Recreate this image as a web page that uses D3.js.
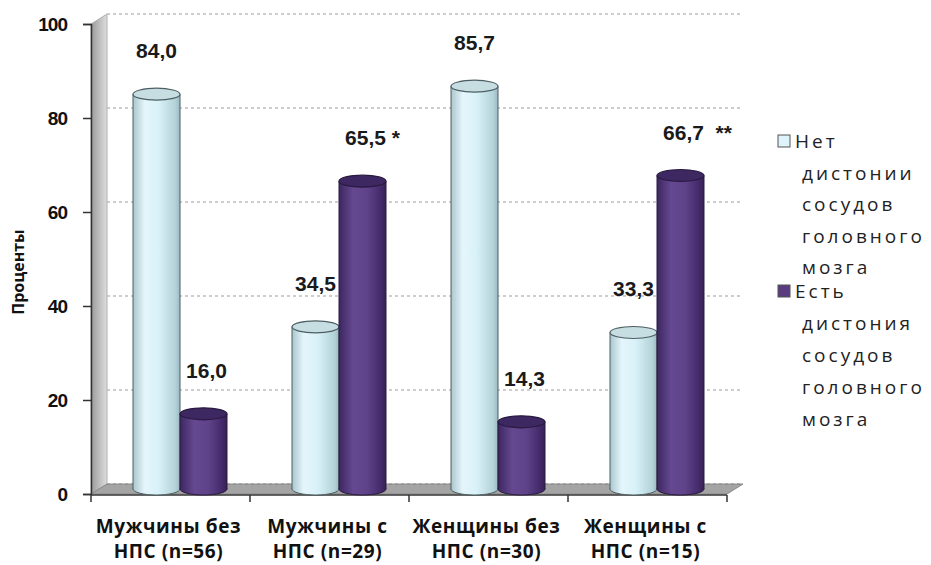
<!DOCTYPE html>
<html>
<head>
<meta charset="utf-8">
<script src="https://cdn.jsdelivr.net/npm/d3@7"></script>
<style>
  body { margin: 0; background: #fff; }
  svg { display: block; }
</style>
</head>
<body>
<script>
// data
const categories = [
  ["Мужчины без", "НПС (n=56)"],
  ["Мужчины с", "НПС (n=29)"],
  ["Женщины без", "НПС (n=30)"],
  ["Женщины с", "НПС (n=15)"]
]
const seriesNames = [
  ["Нет", "дистонии", "сосудов", "головного", "мозга"],
  ["Есть", "дистония", "сосудов", "головного", "мозга"]
]
const noDystonia = [84.0, 34.5, 85.7, 33.3]
const dystonia = [16.0, 65.5, 14.3, 66.7]
const marks = [["", ""], ["", " *"], ["", ""], ["", "  **"]]
const yTicks = [0, 20, 40, 60, 80, 100]

const W = 931, H = 565
const depthX = 16, depthY = -10

let svg = d3.select("body").append("svg")
  .attr("width", W)
  .attr("height", H)

let y = d3.scaleLinear().domain([0, 100]).range([494, 24])
let x0 = d3.scaleBand().domain(d3.range(categories.length)).range([91, 727])
let x1 = d3.scaleBand().domain([0, 1]).range([42, 136])

let defs = svg.append("defs")
function hGrad(id, stops) {
  let g = defs.append("linearGradient").attr("id", id)
    .attr("x1", "0%").attr("x2", "100%").attr("y1", "0%").attr("y2", "0%")
  stops.forEach(s => g.append("stop").attr("offset", s[0]).attr("stop-color", s[1]))
}
hGrad("cyanBody", [["0%", "#a9c6cd"], ["25%", "#e4f6fb"], ["55%", "#d8f1f8"], ["90%", "#b4d2d9"], ["100%", "#9bb9c0"]])
hGrad("purpBody", [["0%", "#3c2760"], ["30%", "#654890"], ["60%", "#5f4389"], ["90%", "#43296a"], ["100%", "#36224f"]])
hGrad("wallGrad", [["0%", "#9a9a9a"], ["100%", "#dedede"]])

// side wall and floor
svg.append("polygon")
  .attr("points", [[91, y(0)], [91, y(100)], [91 + depthX, y(100) + depthY], [91 + depthX, y(0) + depthY]].join(" "))
  .attr("fill", "url(#wallGrad)")
  .attr("stroke", "#b0b0b0")
svg.append("polygon")
  .attr("points", [[91, y(0)], [91 + depthX, y(0) + depthY], [727 + depthX, y(0) + depthY], [727, y(0)]].join(" "))
  .attr("fill", "#a4a4a4")
  .attr("stroke", "#8a8a8a")

// gridlines on back wall
svg.selectAll(".grid")
  .data(yTicks.filter(d => d > 0))
  .enter()
  .append("line")
  .attr("x1", 91 + depthX)
  .attr("x2", 727 + depthX)
  .attr("y1", d => y(d) + depthY)
  .attr("y2", d => y(d) + depthY)
  .attr("stroke", "#bdbdbd")
  .attr("stroke-width", 1.3)
  .attr("stroke-dasharray", "3,3")
svg.append("line")
  .attr("x1", 91 + depthX).attr("x2", 727 + depthX)
  .attr("y1", y(0) + depthY).attr("y2", y(0) + depthY)
  .attr("stroke", "#8a8a8a").attr("stroke-dasharray", "3,3")

// y axis
let yAxis = d3.axisLeft(y).tickValues(yTicks).tickSize(8).tickPadding(16)
let gy = svg.append("g").attr("transform", "translate(91,0)").call(yAxis)
gy.select(".domain").attr("stroke", "#333").attr("stroke-width", 1.5)
gy.selectAll(".tick line").attr("stroke", "#333").attr("stroke-width", 1.5)
gy.selectAll(".tick text")
  .style("font-family", "Liberation Sans, Arial, sans-serif")
  .style("font-size", "19px")
  .style("font-weight", "bold")
  .style("letter-spacing", "-1px")
  .attr("fill", "#111")

// x axis line + ticks
let xAxisG = svg.append("g")
xAxisG.append("line")
  .attr("x1", 91).attr("x2", 727).attr("y1", y(0) + 1).attr("y2", y(0) + 1)
  .attr("stroke", "#333").attr("stroke-width", 1.5)
xAxisG.selectAll(".xt")
  .data(d3.range(categories.length + 1))
  .enter()
  .append("line")
  .attr("x1", d => d < categories.length ? x0(d) : x0(d - 1) + x0.bandwidth())
  .attr("x2", d => d < categories.length ? x0(d) : x0(d - 1) + x0.bandwidth())
  .attr("y1", y(0) + 1).attr("y2", y(0) + 8)
  .attr("stroke", "#333").attr("stroke-width", 1.5)

// category labels
categories.forEach((c, i) => {
  let cx = x0(i) + x0.bandwidth() / 2 - 2
  let t = svg.append("text")
    .attr("x", cx)
    .attr("y", 533)
    .attr("text-anchor", "middle")
    .style("font-family", "Open Sans, sans-serif")
    .style("font-size", "19px")
    .style("font-weight", "bold")
    .style("letter-spacing", "0.6px")
    .attr("fill", "#111")
  t.append("tspan").attr("x", cx).text(c[0])
  t.append("tspan").attr("x", cx).attr("dy", 25).text(c[1])
})

// y title
svg.append("text")
  .attr("transform", "translate(24,272) rotate(-90)")
  .attr("text-anchor", "middle")
  .style("font-family", "Open Sans, sans-serif")
  .style("font-size", "16px")
  .style("font-weight", "bold")
  .attr("fill", "#111")
  .text("Проценты")

// bars as cylinders
let bars = []
categories.forEach((c, i) => {
  bars.push({ i: i, s: 0, v: noDystonia[i] })
  bars.push({ i: i, s: 1, v: dystonia[i] })
})
let ry = 6
let styles = [
  { body: "url(#cyanBody)", top: "#c6dde2", stroke: "#4d5f63" },
  { body: "url(#purpBody)", top: "#3e2862", stroke: "#2a1a40" }
]
bars.forEach(b => {
  let left = x0(b.i) + x1(b.s)
  let w = x1.bandwidth()
  let cx = left + w / 2
  let yb = y(0) + depthY / 2
  let yt = y(b.v) + depthY / 2
  let st = styles[b.s]
  let g = svg.append("g")
  g.append("ellipse")
    .attr("cx", cx).attr("cy", yb).attr("rx", w / 2).attr("ry", ry)
    .attr("fill", st.body).attr("stroke", st.stroke).attr("stroke-width", 1)
  g.append("rect")
    .attr("x", left).attr("y", yt).attr("width", w).attr("height", yb - yt)
    .attr("fill", st.body)
  g.append("line").attr("x1", left).attr("x2", left).attr("y1", yt).attr("y2", yb)
    .attr("stroke", st.stroke)
  g.append("line").attr("x1", left + w).attr("x2", left + w).attr("y1", yt).attr("y2", yb)
    .attr("stroke", st.stroke)
  g.append("ellipse")
    .attr("cx", cx).attr("cy", yt).attr("rx", w / 2).attr("ry", ry)
    .attr("fill", st.top).attr("stroke", st.stroke).attr("stroke-width", 1.2)
})

// value labels
bars.forEach(b => {
  let cx = x0(b.i) + x1(b.s) + x1.bandwidth() / 2 + (b.s === 1 ? 3 : 0)
  let txt = d3.format(".1f")(b.v).replace(".", ",")
  let t = svg.append("text")
    .attr("x", cx)
    .attr("y", y(b.v) + depthY / 2 - 36)
    .style("font-family", "Liberation Sans, Arial, sans-serif")
    .style("font-size", "21px")
    .style("font-weight", "bold")
    .attr("fill", "#1a1a1a")
    .attr("text-anchor", "start")
    .text(txt)
  let tw = t.node().getComputedTextLength()
  t.attr("x", cx - tw / 2)
  if (marks[b.i][b.s]) {
    t.append("tspan").attr("xml:space", "preserve").style("white-space", "pre").text(marks[b.i][b.s])
  }
})

// legend
let legendColors = ["#dff3fa", "#5a3d80"]
let legendY = [141, 291]
seriesNames.forEach((lines, k) => {
  svg.append("rect")
    .attr("x", 778).attr("y", legendY[k] - 6).attr("width", 12).attr("height", 12)
    .attr("fill", legendColors[k]).attr("stroke", "#555").attr("stroke-width", 1)
  let t = svg.append("text")
    .style("font-family", "Open Sans, sans-serif")
    .style("font-size", "19px")
    .style("letter-spacing", "3px")
    .attr("fill", "#222")
  lines.forEach((ln, j) => {
    t.append("tspan")
      .attr("x", j === 0 ? 795 : 802)
      .attr("y", legendY[k] + 7 + j * (k === 0 ? 31.5 : 32))
      .text(ln)
  })
})
</script>
</body>
</html>
